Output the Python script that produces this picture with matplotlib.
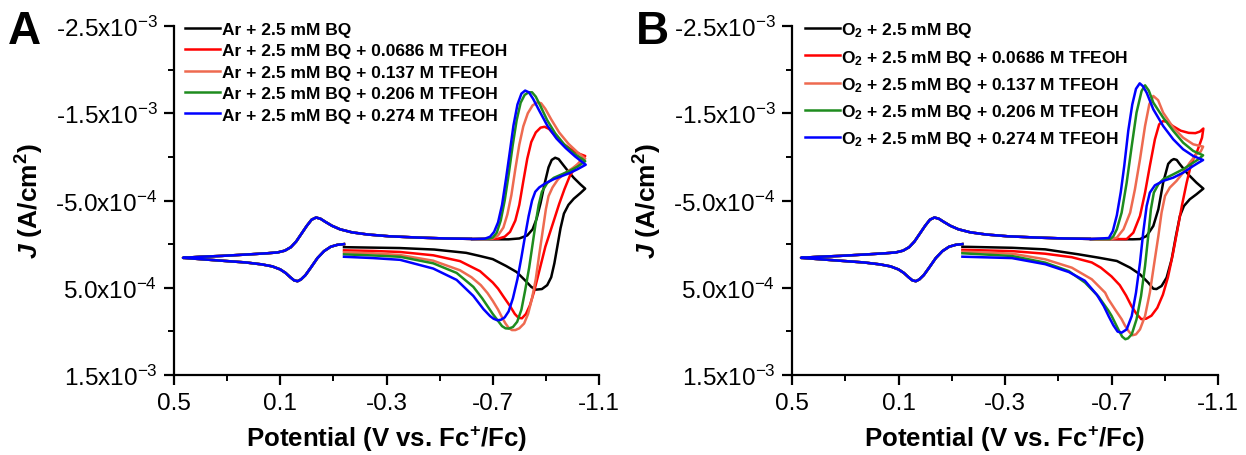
import matplotlib
matplotlib.use("Agg")
import matplotlib.pyplot as plt
from matplotlib.ticker import FixedLocator, FixedFormatter
from matplotlib.font_manager import FontProperties

plt.rcParams['font.family'] = ['Liberation Sans', 'DejaVu Sans']
plt.rcParams['mathtext.fontset'] = 'custom'
plt.rcParams['mathtext.rm'] = 'Liberation Sans'
plt.rcParams['mathtext.it'] = 'Liberation Sans:italic:bold'
plt.rcParams['mathtext.bf'] = 'Liberation Sans:bold'
plt.rcParams['mathtext.default'] = 'regular'

# ---------------- data (E in V vs Fc+/Fc, J in 1e-3 A/cm2) ----------------
# shared part of every scan: start at -0.14 V -> +0.466 V -> back to -0.62 V
common_lower_E = [-0.140, -0.115, -0.090, -0.065, -0.040, -0.015, 0.005, 0.022, 0.035, 0.048,
                  0.062, 0.080, 0.100, 0.130, 0.170, 0.230, 0.320, 0.400, 0.466]
common_lower_J = [0.000, 0.008, 0.030, 0.08, 0.16, 0.27, 0.355, 0.405, 0.425, 0.415,
                  0.38, 0.33, 0.29, 0.255, 0.232, 0.21, 0.19, 0.172, 0.157]
common_upper_E = [0.466, 0.40, 0.32, 0.22, 0.15, 0.11, 0.083, 0.060, 0.040, 0.020, 0.000, -0.018,
                  -0.035, -0.052, -0.070, -0.095, -0.125, -0.17, -0.23, -0.31, -0.42, -0.52, -0.62]
common_upper_J = [0.157, 0.145, 0.135, 0.118, 0.105, 0.095, 0.075, 0.035, -0.03, -0.12, -0.21, -0.28,
                  -0.305, -0.29, -0.255, -0.21, -0.17, -0.135, -0.11, -0.09, -0.075, -0.065, -0.06]

# Panel A (Ar)
A_black_E = [-0.62, -0.70, -0.76, -0.80, -0.83, -0.85, -0.865, -0.88, -0.895, -0.91, -0.922, -0.935, -0.948,
             -0.962, -0.98, -1.005, -1.03, -1.048,
             -1.03, -1.005, -0.985, -0.968, -0.955, -0.943, -0.932, -0.92, -0.905, -0.885, -0.862, -0.845,
             -0.82, -0.79, -0.75, -0.70, -0.65, -0.60, -0.48, -0.35, -0.14]
A_black_J = [-0.058, -0.055, -0.055, -0.065, -0.10, -0.17, -0.29, -0.47, -0.69, -0.88, -0.965, -0.99, -0.975,
             -0.92, -0.85, -0.76, -0.685, -0.636,
             -0.585, -0.52, -0.45, -0.35, -0.18, 0.03, 0.22, 0.38, 0.47, 0.515, 0.522, 0.49,
             0.41, 0.32, 0.25, 0.172, 0.135, 0.10, 0.062, 0.045, 0.035]

A_red_E = [-0.62, -0.72, -0.745, -0.765, -0.785, -0.80, -0.815, -0.83, -0.845, -0.862, -0.88, -0.895, -0.912,
           -0.935, -0.965, -1.0, -1.03, -1.048,
           -1.03, -1.01, -0.99, -0.97, -0.95, -0.93, -0.913, -0.898, -0.884, -0.87, -0.855, -0.84, -0.825,
           -0.81, -0.797, -0.783, -0.765, -0.74, -0.72, -0.70, -0.652, -0.577, -0.476, -0.351, -0.25, -0.14]
A_red_J = [-0.058, -0.062, -0.085, -0.14, -0.27, -0.45, -0.72, -0.98, -1.17, -1.28, -1.335, -1.345, -1.32,
           -1.24, -1.15, -1.075, -1.03, -1.01,
           -0.95, -0.88, -0.78, -0.63, -0.46, -0.27, -0.11, 0.03, 0.20, 0.37, 0.55, 0.70, 0.80,
           0.85, 0.845, 0.80, 0.71, 0.60, 0.51, 0.44, 0.31, 0.195, 0.128, 0.09, 0.078, 0.071]

A_salmon_E = [-0.62, -0.70, -0.72, -0.74, -0.755, -0.77, -0.785, -0.80, -0.815, -0.832, -0.85, -0.868, -0.882,
              -0.898, -0.92, -0.95, -0.985, -1.02, -1.048,
              -1.03, -1.0, -0.97, -0.945, -0.925, -0.91, -0.90, -0.888, -0.875, -0.862, -0.848, -0.833, -0.818,
              -0.80, -0.785, -0.772, -0.76, -0.748, -0.735, -0.72, -0.70, -0.68, -0.655, -0.62, -0.577, -0.476,
              -0.351, -0.25, -0.14]
A_salmon_J = [-0.058, -0.065, -0.10, -0.19, -0.34, -0.56, -0.86, -1.14, -1.35, -1.50, -1.59, -1.625, -1.615,
              -1.55, -1.43, -1.28, -1.15, -1.05, -0.98,
              -0.94, -0.87, -0.81, -0.74, -0.65, -0.55, -0.40, -0.15, 0.12, 0.40, 0.62, 0.80, 0.91,
              0.965, 0.985, 0.985, 0.96, 0.91, 0.84, 0.75, 0.65, 0.56, 0.47, 0.38, 0.30, 0.19,
              0.125, 0.105, 0.094]

A_green_E = [-0.62, -0.685, -0.70, -0.715, -0.73, -0.745, -0.76, -0.775, -0.79, -0.805, -0.82, -0.835, -0.848,
             -0.862, -0.88, -0.905, -0.935, -0.97, -1.01, -1.035, -1.048,
             -1.02, -0.99, -0.96, -0.93, -0.905, -0.885, -0.873, -0.862, -0.85, -0.837, -0.822, -0.808, -0.792,
             -0.776, -0.76, -0.748, -0.735, -0.72, -0.70, -0.68, -0.66, -0.627, -0.564, -0.476, -0.351, -0.25,
             -0.14]
A_green_J = [-0.058, -0.062, -0.075, -0.13, -0.27, -0.50, -0.80, -1.13, -1.42, -1.62, -1.71, -1.74, -1.74,
             -1.69, -1.58, -1.42, -1.27, -1.14, -1.03, -0.98, -0.95,
             -0.89, -0.84, -0.80, -0.76, -0.70, -0.60, -0.45, -0.25, 0.0, 0.27, 0.53, 0.75, 0.89,
             0.95, 0.968, 0.965, 0.94, 0.88, 0.80, 0.71, 0.62, 0.49, 0.33, 0.22, 0.145, 0.13,
             0.117]

A_blue_E = [-0.62, -0.67, -0.69, -0.705, -0.72, -0.735, -0.75, -0.763, -0.778, -0.793, -0.808, -0.822, -0.836,
            -0.852, -0.875, -0.905, -0.94, -0.975, -1.01, -1.035, -1.05,
            -1.02, -0.99, -0.96, -0.93, -0.90, -0.875, -0.86, -0.848, -0.835, -0.822, -0.808, -0.793, -0.776,
            -0.76, -0.745, -0.73, -0.717, -0.703, -0.69, -0.665, -0.627, -0.564, -0.476, -0.351, -0.25, -0.14]
A_blue_J = [-0.058, -0.062, -0.085, -0.14, -0.25, -0.45, -0.75, -1.03, -1.36, -1.60, -1.725, -1.76, -1.74,
            -1.665, -1.53, -1.36, -1.21, -1.10, -1.005, -0.945, -0.91,
            -0.86, -0.815, -0.78, -0.745, -0.70, -0.65, -0.60, -0.50, -0.32, -0.10, 0.15, 0.40, 0.62,
            0.77, 0.84, 0.868, 0.872, 0.855, 0.825, 0.745, 0.594, 0.41, 0.28, 0.18, 0.16, 0.145]

# Panel B (O2)
B_black_E = [-0.62, -0.78, -0.807, -0.832, -0.857, -0.876, -0.894, -0.913, -0.925, -0.934, -0.945, -0.957,
             -0.988, -1.019, -1.045,
             -1.019, -0.994, -0.972, -0.957, -0.942, -0.926, -0.907, -0.888, -0.869, -0.857, -0.838, -0.807,
             -0.770, -0.720, -0.651, -0.576, -0.451, -0.326, -0.14]
B_black_J = [-0.058, -0.055, -0.058, -0.093, -0.208, -0.40, -0.705, -0.92, -0.96, -0.975, -0.965, -0.915,
             -0.80, -0.705, -0.636,
             -0.571, -0.514, -0.437, -0.323, -0.093, 0.174, 0.384, 0.48, 0.515, 0.511, 0.442, 0.346,
             0.27, 0.193, 0.155, 0.117, 0.06, 0.042, 0.03]

B_red_E = [-0.62, -0.757, -0.782, -0.807, -0.826, -0.844, -0.863, -0.879, -0.894, -0.91, -0.932, -0.96, -0.99,
           -1.015, -1.032, -1.045,
           -1.04, -1.032, -1.02, -1.0, -0.982, -0.965, -0.948, -0.93, -0.912, -0.893, -0.872, -0.85, -0.83,
           -0.812, -0.794, -0.775, -0.755, -0.731, -0.70, -0.66, -0.626, -0.551, -0.451, -0.326, -0.14]
B_red_J = [-0.058, -0.058, -0.131, -0.323, -0.59, -0.896, -1.201, -1.373, -1.411, -1.40, -1.35, -1.30, -1.275,
           -1.272, -1.29, -1.325,
           -1.22, -1.15, -1.05, -0.93, -0.70, -0.45, -0.17, 0.12, 0.38, 0.58, 0.73, 0.82, 0.855,
           0.86, 0.80, 0.71, 0.59, 0.47, 0.37, 0.27, 0.21, 0.15, 0.11, 0.08, 0.065]

B_salmon_E = [-0.62, -0.70, -0.720, -0.745, -0.770, -0.788, -0.807, -0.826, -0.842, -0.857, -0.875, -0.894,
              -0.932, -0.969, -1.007, -1.044,
              -1.035, -1.019, -0.994, -0.969, -0.944, -0.919, -0.901, -0.888, -0.876, -0.859, -0.844, -0.826,
              -0.807, -0.792, -0.778, -0.765, -0.75, -0.738, -0.713, -0.688, -0.676, -0.626, -0.551, -0.451,
              -0.326, -0.14]
B_salmon_J = [-0.058, -0.058, -0.074, -0.17, -0.36, -0.628, -0.972, -1.354, -1.603, -1.698, -1.65, -1.507,
              -1.335, -1.22, -1.144, -1.117,
              -1.06, -1.03, -0.934, -0.819, -0.724, -0.648, -0.552, -0.361, -0.093, 0.25, 0.556, 0.824,
              0.977, 1.034, 1.045, 1.0, 0.93, 0.86, 0.747, 0.63, 0.556, 0.403, 0.27, 0.174,
              0.109, 0.086]

B_green_E = [-0.62, -0.695, -0.707, -0.720, -0.738, -0.757, -0.776, -0.794, -0.813, -0.826, -0.84, -0.857,
             -0.894, -0.932, -0.969, -1.007, -1.044,
             -1.025, -1.007, -0.969, -0.932, -0.894, -0.876, -0.859, -0.848, -0.838, -0.826, -0.811, -0.794,
             -0.776, -0.762, -0.752, -0.74, -0.726, -0.713, -0.70, -0.688, -0.651, -0.601, -0.539, -0.451,
             -0.326, -0.14]
B_green_J = [-0.058, -0.058, -0.09, -0.17, -0.36, -0.705, -1.125, -1.507, -1.755, -1.82, -1.76, -1.622,
             -1.45, -1.297, -1.163, -1.068, -1.018,
             -0.97, -0.934, -0.858, -0.80, -0.743, -0.686, -0.59, -0.399, -0.093, 0.25, 0.594, 0.862,
             1.034, 1.08, 1.09, 1.06, 0.98, 0.90, 0.82, 0.76, 0.60, 0.442, 0.308, 0.212,
             0.136, 0.105]

B_blue_E = [-0.62, -0.69, -0.705, -0.72, -0.735, -0.748, -0.763, -0.778, -0.792, -0.806, -0.818, -0.832, -0.857,
            -0.894, -0.932, -0.969, -1.007, -1.044,
            -1.025, -1.007, -0.969, -0.932, -0.894, -0.863, -0.844, -0.832, -0.819, -0.807, -0.792, -0.776,
            -0.757, -0.738, -0.723, -0.707, -0.69, -0.671, -0.645, -0.60, -0.54, -0.451, -0.326, -0.14]
B_blue_J = [-0.058, -0.07, -0.15, -0.33, -0.60, -0.90, -1.30, -1.60, -1.78, -1.843, -1.81, -1.736, -1.545,
            -1.354, -1.201, -1.087, -1.010, -0.964,
            -0.93, -0.896, -0.819, -0.762, -0.724, -0.674, -0.59, -0.437, -0.131, 0.212, 0.556, 0.824,
            0.977, 1.015, 1.003, 0.93, 0.83, 0.71, 0.58, 0.42, 0.32, 0.23, 0.16, 0.144]

colors = ['#000000', '#FF0000', '#EE6A50', '#1E8C1E', '#0000FF']
concs = ['', ' + 0.0686 M TFEOH', ' + 0.137 M TFEOH', ' + 0.206 M TFEOH', ' + 0.274 M TFEOH']
labels_A = ['Ar + 2.5 mM BQ' + c for c in concs]
labels_B = [r'O$_{\mathregular{2}}$ + 2.5 mM BQ' + c for c in concs]

series_A = [(A_black_E, A_black_J), (A_red_E, A_red_J), (A_salmon_E, A_salmon_J),
            (A_green_E, A_green_J), (A_blue_E, A_blue_J)]
series_B = [(B_black_E, B_black_J), (B_red_E, B_red_J), (B_salmon_E, B_salmon_J),
            (B_green_E, B_green_J), (B_blue_E, B_blue_J)]

x_major = [0.5, 0.1, -0.3, -0.7, -1.1]
x_minor = [0.3, -0.1, -0.5, -0.9]
y_major = [-2.5e-3, -1.5e-3, -5.0e-4, 5.0e-4, 1.5e-3]
y_minor = [-2.0e-3, -1.0e-3, 0.0, 1.0e-3]
y_ticklabels = [r'-2.5x10$^{\mathregular{-3}}$', r'-1.5x10$^{\mathregular{-3}}$', r'-5.0x10$^{\mathregular{-4}}$',
                r'5.0x10$^{\mathregular{-4}}$', r'1.5x10$^{\mathregular{-3}}$']
x_ticklabels = ['0.5', '0.1', '-0.3', '-0.7', '-1.1']

# ---------------- figure ----------------
W, H = 1246, 456
fig = plt.figure(figsize=(W / 100, H / 100), dpi=100)
axA = fig.add_axes([174 / W, 1 - 376 / H, 425 / W, 349 / H])
axB = fig.add_axes([792 / W, 1 - 376 / H, 426 / W, 349 / H])


def draw(ax, series, labels, leg_anchor, leg_spacing):
    handles = []
    for (E, J), col, lab in zip(series, colors, labels):
        full_E = common_lower_E + common_upper_E + E
        full_J = common_lower_J + common_upper_J + J
        h, = ax.plot(full_E, [j * 1e-3 for j in full_J], color=col, lw=1.8, label=lab,
                     solid_joinstyle='round')
        handles.append(h)
    ax.set_xlim(0.5, -1.1)
    ax.set_ylim(1.5e-3, -2.5e-3)
    for s in ('top', 'right'):
        ax.spines[s].set_visible(False)
    for s in ('left', 'bottom'):
        ax.spines[s].set_linewidth(1.6)
    ax.xaxis.set_major_locator(FixedLocator(x_major))
    ax.xaxis.set_minor_locator(FixedLocator(x_minor))
    ax.xaxis.set_major_formatter(FixedFormatter(x_ticklabels))
    ax.yaxis.set_major_locator(FixedLocator(y_major))
    ax.yaxis.set_minor_locator(FixedLocator(y_minor))
    ax.yaxis.set_major_formatter(FixedFormatter(y_ticklabels))
    ax.tick_params(which='major', direction='out', length=7, width=1.6, labelsize=17.5, pad=5)
    ax.tick_params(which='minor', direction='out', length=4, width=1.4)
    ax.set_xlabel(r'Potential (V vs. Fc$^{\mathregular{+}}$/Fc)', fontsize=18.6, fontweight='bold', labelpad=7)
    ax.set_ylabel(r'$\mathit{J}$ (A/cm$^{\mathregular{2}}$)', fontsize=19, fontweight='bold')
    ax.yaxis.set_label_coords(-0.30, 0.5)
    leg = ax.legend(handles=handles, loc='upper left', bbox_to_anchor=leg_anchor, frameon=False,
                    prop=FontProperties(family='Liberation Sans', weight='bold', size=12.5),
                    handlelength=2.0, handletextpad=0.1, labelspacing=leg_spacing,
                    borderaxespad=0, borderpad=0)
    return leg


draw(axA, series_A, labels_A, (0.026, 1.012), 0.36)
draw(axB, series_B, labels_B, (0.03, 1.016), 0.47)

fig.text(8 / W, 1 - 10 / H, 'A', fontsize=33, fontweight='bold', ha='left', va='top')
fig.text(636 / W, 1 - 10 / H, 'B', fontsize=33, fontweight='bold', ha='left', va='top')

fig.savefig('out.png', dpi=100)
